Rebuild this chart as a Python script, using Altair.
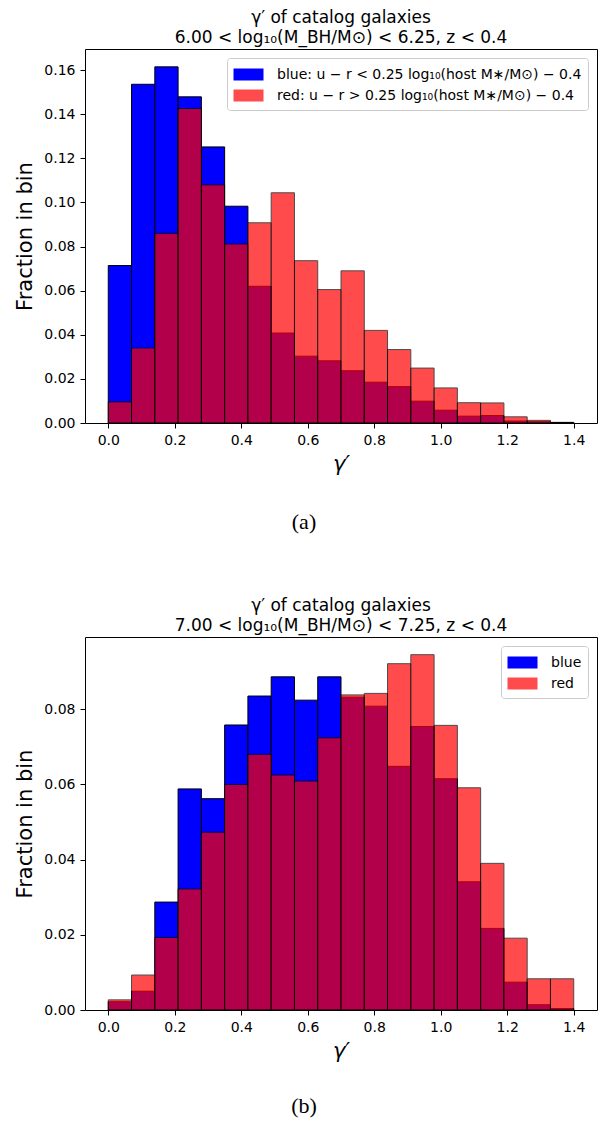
import altair as alt
import pandas as pd

# ---- data ----
edges = [0.0, 0.07, 0.14, 0.21, 0.28, 0.35, 0.42, 0.49, 0.56, 0.63, 0.70,
         0.77, 0.84, 0.91, 0.98, 1.05, 1.12, 1.19, 1.26, 1.33, 1.40]

a_blue = [0.0714, 0.1536, 0.1615, 0.1479, 0.1252, 0.0983, 0.0620, 0.0408, 0.0303, 0.0282,
          0.0237, 0.0185, 0.0165, 0.0099, 0.0058, 0.0031, 0.0034, 0.0009, 0.0006, 0.0002]
a_red = [0.0096, 0.0340, 0.0860, 0.1426, 0.1080, 0.0812, 0.0908, 0.1044, 0.0736, 0.0605,
         0.0690, 0.0420, 0.0333, 0.0249, 0.0159, 0.0092, 0.0091, 0.0028, 0.0012, 0.0003]

b_blue = [0.0022, 0.0050, 0.0287, 0.0588, 0.0562, 0.0758, 0.0835, 0.0886, 0.0824, 0.0886,
          0.0832, 0.0808, 0.0648, 0.0754, 0.0615, 0.0341, 0.0217, 0.0074, 0.0014, 0.0004]
b_red = [0.0027, 0.0093, 0.0193, 0.0322, 0.0473, 0.0600, 0.0680, 0.0625, 0.0609, 0.0724,
         0.0838, 0.0842, 0.0921, 0.0945, 0.0757, 0.0591, 0.0390, 0.0191, 0.0083, 0.0083]

x_ticks = [0.0, 0.2, 0.4, 0.6, 0.8, 1.0, 1.2, 1.4]
a_yticks = [0.0, 0.02, 0.04, 0.06, 0.08, 0.10, 0.12, 0.14, 0.16]
b_yticks = [0.0, 0.02, 0.04, 0.06, 0.08]

a_title = ["γ′ of catalog galaxies", "6.00 < log₁₀(M_BH/M⊙) < 6.25, z < 0.4"]
b_title = ["γ′ of catalog galaxies", "7.00 < log₁₀(M_BH/M⊙) < 7.25, z < 0.4"]
a_labels = {"blue": "blue: u − r < 0.25 log₁₀(host M∗/M⊙) − 0.4",
            "red": "red: u − r > 0.25 log₁₀(host M∗/M⊙) − 0.4"}
b_labels = {"blue": "blue", "red": "red"}

FONT = "DejaVu Sans"
W = 512


def make_df(blue, red):
    rows = []
    for name, vals in (("blue", blue), ("red", red)):
        for i, v in enumerate(vals):
            rows.append({"sample": name, "x0": edges[i], "x1": edges[i + 1], "v": v})
    return pd.DataFrame(rows)


def panel(blue, red, ymax, yticks, title, labels, caption, h, cap_dy):
    df = make_df(blue, red)
    lab_expr = "datum.label == 'blue' ? '%s' : '%s'" % (labels["blue"], labels["red"])
    leg = alt.Legend(
        title=None, orient="top-right", offset=9, labelExpr=lab_expr,
        labelFont=FONT, labelFontSize=14, labelColor="black", labelLimit=500,
        labelOffset=18, symbolOffset=5, symbolType="M-1.5,-0.6H1.5V0.6H-1.5Z", symbolSize=400,
        symbolStrokeColor="black", symbolStrokeWidth=1, rowPadding=2,
        fillColor="white", strokeColor="#cccccc", cornerRadius=3, padding=6,
    )
    bars = alt.Chart(df).mark_rect(stroke="black", strokeWidth=1).encode(
        x=alt.X("x0:Q", scale=alt.Scale(domain=[-0.07, 1.47], nice=False, zero=False),
                axis=alt.Axis(values=x_ticks, format=".1f", title="γ′", grid=False,
                              domain=False, tickSize=5, tickColor="black", labelPadding=5,
                              labelFont=FONT, labelFontSize=14, labelColor="black",
                              titleFont=FONT, titleFontSize=21, titleFontWeight="normal",
                              titleFontStyle="italic", titleColor="black", titlePadding=6)),
        x2="x1:Q",
        y=alt.Y("v:Q", scale=alt.Scale(domain=[0, ymax], nice=False, zero=True),
                axis=alt.Axis(values=yticks, format=".2f", title="Fraction in bin", grid=False,
                              domain=False, tickSize=5, tickColor="black", labelPadding=5,
                              labelFont=FONT, labelFontSize=14, labelColor="black",
                              titleFont=FONT, titleFontSize=21, titleFontWeight="normal",
                              titleColor="black", titlePadding=8)),
        y2=alt.datum(0),
        color=alt.Color("sample:N", scale=alt.Scale(domain=["blue", "red"], range=["#0000ff", "#ff0000"]),
                        legend=leg),
        opacity=alt.Opacity("sample:N", scale=alt.Scale(domain=["blue", "red"], range=[1.0, 0.7]),
                            legend=leg),
    )
    cap = alt.Chart(pd.DataFrame({"t": [caption]})).mark_text(
        font="Liberation Serif", fontSize=22, color="black", align="center", baseline="middle"
    ).encode(text="t:N", x=alt.value(219), y=alt.value(h + cap_dy))
    return alt.layer(bars, cap).properties(
        width=W, height=h,
        title=alt.TitleParams(text=title, font=FONT, fontSize=17, fontWeight="normal",
                              color="black", anchor="middle", offset=2, lineHeight=20),
    )


pa = panel(a_blue, a_red, 0.1696, a_yticks, a_title, a_labels, "(a)", 374, 99)
pb = panel(b_blue, b_red, 0.0992, b_yticks, b_title, b_labels, "(b)", 373, 96)

chart = alt.vconcat(pa, pb, spacing=62).resolve_scale(
    color="independent", opacity="independent", x="independent", y="independent"
).resolve_legend(color="independent", opacity="independent").properties(
    padding={"left": 6, "top": 0, "right": 0, "bottom": 0}
).configure_view(stroke="black", strokeWidth=1)

chart.save("out.html", embed_options={"renderer": "svg", "actions": False})
